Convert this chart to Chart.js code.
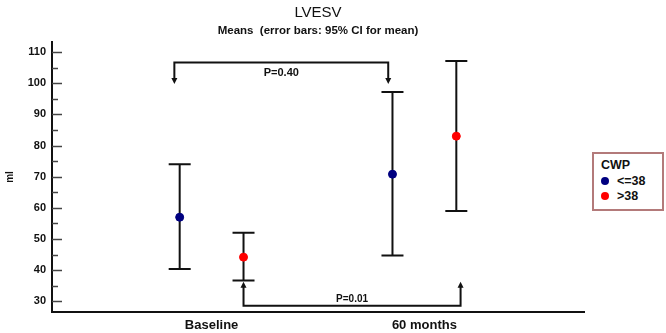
<!DOCTYPE html>
<html>
<head>
<meta charset="utf-8">
<script src="https://cdn.jsdelivr.net/npm/chart.js@4.4.1/dist/chart.umd.min.js"></script>
<style>
  html, body { margin: 0; padding: 0; background: #fff; }
  #wrap { position: relative; width: 666px; height: 333px; }
  #legend {
    position: absolute; left: 592px; top: 152px; width: 72px; height: 59px;
    border: 2px solid #b37a7a; box-sizing: border-box; background: #fff;
    font-family: "Liberation Sans", Arial, sans-serif; font-weight: bold; font-size: 12.5px; color: #111;
    padding: 4px 0 0 7px; line-height: 15.5px;
  }
  #legend .dot { display: inline-block; width: 8px; height: 8px; border-radius: 50%; margin-right: 8px; vertical-align: -0px; }
</style>
</head>
<body>
<div id="wrap">
  <canvas id="chart" width="666" height="333"></canvas>
  <div id="legend"></div>
</div>
<script>
// Werte
const categories = ['Baseline', '60 months'];
const groups = ['<=38', '>38'];
const groupColors = ['#000080', '#ff0000'];

const meanLow = [57, 70.8];     // CWP <=38
const ciLowLo = [40.4, 44.7];
const ciLowHi = [74, 97.2];

const meanHigh = [44.2, 83];    // CWP >38
const ciHighLo = [36.7, 59];
const ciHighHi = [52, 107.1];

// Vergleiche: [x1, x2, yBracket, yArrowTip, label, yLabel]
const comparisons = [
  [0.825, 1.83, 106.6, 99.7, 'P=0.40', 103.4],
  [1.15, 2.17, 28.6, 36.3, 'P=0.01', 30.6]
];

const groupOffset = [-0.15, 0.15];
const FONT = '"Liberation Sans", Arial, sans-serif';

// Legende (HTML)
const legendEl = document.getElementById('legend');
legendEl.innerHTML = '<div>CWP</div>' + groups.map((g, i) =>
  `<div><span class="dot" style="background:${groupColors[i]}"></span>${g.replace('<', '&lt;')}</div>`).join('');

const errorBarPlugin = {
  id: 'errorBars',
  beforeDatasetsDraw(chart) {
    const { ctx, scales: { x, y } } = chart;
    ctx.save();
    ctx.strokeStyle = '#111';
    ctx.lineWidth = 2;
    const sets = [[ciLowLo, ciLowHi], [ciHighLo, ciHighHi]];
    sets.forEach((s, g) => {
      categories.forEach((c, i) => {
        const px = x.getPixelForValue(i + 1 + groupOffset[g]);
        const lo = y.getPixelForValue(s[0][i]);
        const hi = y.getPixelForValue(s[1][i]);
        ctx.beginPath();
        ctx.moveTo(px, lo); ctx.lineTo(px, hi);
        ctx.moveTo(px - 11, lo); ctx.lineTo(px + 11, lo);
        ctx.moveTo(px - 11, hi); ctx.lineTo(px + 11, hi);
        ctx.stroke();
      });
    });
    ctx.restore();
  },
  afterDraw(chart) {
    const { ctx, scales: { x, y }, chartArea } = chart;
    ctx.save();
    // Ticks nach innen
    ctx.strokeStyle = '#444';
    ctx.lineWidth = 1.5;
    for (let v = 30; v <= 110; v += 5) {
      const py = Math.round(y.getPixelForValue(v)) + 0.5;
      const len = v % 10 === 0 ? 10 : 6;
      ctx.beginPath();
      ctx.moveTo(chartArea.left, py);
      ctx.lineTo(chartArea.left + len, py);
      ctx.stroke();
    }
    // Klammern mit Pfeilen
    ctx.strokeStyle = '#111';
    ctx.fillStyle = '#111';
    ctx.lineWidth = 2;
    comparisons.forEach(([x1, x2, yb, ya, label, yl], k) => {
      const p1 = x.getPixelForValue(x1), p2 = x.getPixelForValue(x2);
      const pb = y.getPixelForValue(yb), pa = y.getPixelForValue(ya);
      const dir = pa > pb ? 1 : -1;
      ctx.beginPath();
      ctx.moveTo(p1, pa - dir * 5);
      ctx.lineTo(p1, pb);
      ctx.lineTo(p2, pb);
      ctx.lineTo(p2, pa - dir * 5);
      ctx.stroke();
      [p1, p2].forEach(px => {
        ctx.beginPath();
        ctx.moveTo(px - 3, pa - dir * 6);
        ctx.lineTo(px + 3, pa - dir * 6);
        ctx.lineTo(px, pa);
        ctx.closePath();
        ctx.fill();
      });
      ctx.font = `bold ${k === 0 ? 11 : 10}px ${FONT}`;
      ctx.textAlign = 'center';
      ctx.textBaseline = 'middle';
      ctx.fillText(label, x.getPixelForValue((x1 + x2) / 2), y.getPixelForValue(yl));
    });
    // Titel
    const cx = (chartArea.left + chartArea.right) / 2;
    ctx.fillStyle = '#111';
    ctx.textAlign = 'center';
    ctx.textBaseline = 'middle';
    ctx.font = `15px ${FONT}`;
    ctx.fillText('LVESV', cx, 13);
    ctx.font = `bold 11.5px ${FONT}`;
    ctx.fillText('Means  (error bars: 95% CI for mean)', cx, 31);
    ctx.restore();
  }
};

const ctx = document.getElementById('chart').getContext('2d');
new Chart(ctx, {
  type: 'scatter',
  data: {
    datasets: [
      {
        label: groups[0],
        data: meanLow.map((v, i) => ({ x: i + 1 + groupOffset[0], y: v })),
        backgroundColor: groupColors[0],
        borderColor: groupColors[0],
        pointRadius: 4,
        pointHoverRadius: 4
      },
      {
        label: groups[1],
        data: meanHigh.map((v, i) => ({ x: i + 1 + groupOffset[1], y: v })),
        backgroundColor: groupColors[1],
        borderColor: groupColors[1],
        pointRadius: 4,
        pointHoverRadius: 4
      }
    ]
  },
  options: {
    responsive: false,
    animation: false,
    layout: { padding: { top: 42, right: 82, left: 0, bottom: 0 } },
    plugins: {
      legend: { display: false },
      tooltip: { enabled: false }
    },
    scales: {
      x: {
        type: 'linear',
        min: 0.25,
        max: 2.75,
        afterBuildTicks: axis => { axis.ticks = categories.map((c, i) => ({ value: i + 1 })); },
        afterFit: axis => { axis.height = 21; },
        grid: { display: false, drawTicks: false },
        border: { display: true, color: '#111', width: 2 },
        ticks: {
          padding: 6,
          color: '#111',
          font: { family: FONT, size: 13, weight: 'bold' },
          callback: v => categories[v - 1]
        }
      },
      y: {
        min: 26.6,
        max: 113.2,
        afterFit: axis => { axis.width = 52; },
        grid: { display: false, drawTicks: false },
        border: { display: true, color: '#111', width: 2 },
        title: {
          display: true,
          text: 'ml',
          color: '#111',
          padding: { top: 4, bottom: 0 },
          font: { family: FONT, size: 10, weight: 'bold' }
        },
        ticks: {
          stepSize: 10,
          includeBounds: false,
          padding: 6,
          color: '#111',
          font: { family: FONT, size: 11, weight: 'bold' }
        }
      }
    }
  },
  plugins: [errorBarPlugin]
});
</script>
</body>
</html>
